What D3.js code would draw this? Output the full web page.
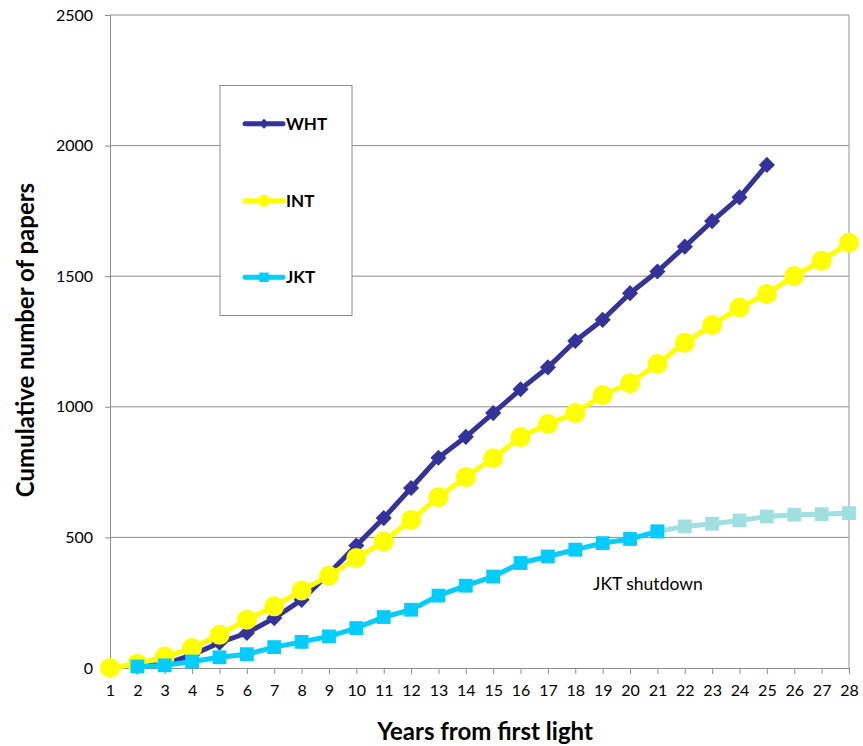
<!DOCTYPE html>
<html><head><meta charset="utf-8">
<script src="https://cdn.jsdelivr.net/npm/d3@7"></script>
<style>body{margin:0;background:#fff}svg{display:block}</style>
</head><body>
<svg id="c" width="863" height="746"></svg>
<script>
const years = d3.range(1, 29);
const yTicks = [0, 500, 1000, 1500, 2000, 2500];
const whtYears = d3.range(2, 26);
const whtValues = [5, 15, 50, 97, 134, 191, 261, 362, 469, 574, 689, 805, 885, 976, 1067, 1151, 1252, 1333, 1435, 1518, 1613, 1711, 1802, 1926];
const intYears = d3.range(1, 29);
const intValues = [0, 16, 43, 77, 127, 185, 236, 297, 353, 421, 484, 567, 654, 731, 803, 884, 934, 976, 1045, 1090, 1164, 1245, 1313, 1380, 1432, 1501, 1559, 1628];
const jktYears = d3.range(2, 22);
const jktValues = [6, 10, 25, 41, 53, 80, 100, 121, 153, 195, 223, 277, 315, 350, 402, 427, 453, 478, 494, 523];
const jktAfterYears = d3.range(21, 29);
const jktAfterValues = [523, 542, 552, 565, 580, 587, 589, 593];
const seriesNames = ["WHT", "INT", "JKT"];
const seriesColors = ["#333399", "#ffff00", "#00ccff"];
const afterColor = "#a0dfe0";
const font = "Lato, 'Open Sans', sans-serif";

const svg = d3.select("#c");
const L = 110, R = 849, T = 15, B = 668;
const x = d3.scaleLinear().domain([1, 28]).range([L, R]);
const y = d3.scaleLinear().domain([0, 2500]).range([B, T]);

// gridlines
svg.append("g").selectAll("line").data(yTicks.filter(d => d > 0)).join("line")
  .attr("x1", L).attr("x2", R).attr("y1", d => y(d)).attr("y2", d => y(d))
  .attr("stroke", "#8c8c8c").attr("stroke-width", 1);
// right border
svg.append("line").attr("x1", R).attr("x2", R).attr("y1", T).attr("y2", B)
  .attr("stroke", "#a6a6a6").attr("stroke-width", 1.2);

// y axis
const ya = svg.append("g").attr("transform", `translate(${L},0)`)
  .call(d3.axisLeft(y).tickValues(yTicks).tickSize(5).tickPadding(12).tickFormat(d3.format("d")));
ya.select(".domain").attr("stroke", "#8c8c8c");
ya.selectAll(".tick line").attr("stroke", "#8c8c8c");
ya.selectAll("text").attr("font-family", font).attr("font-size", 16).attr("fill", "#000");

// x axis
const xa = svg.append("g").attr("transform", `translate(0,${B})`)
  .call(d3.axisBottom(x).tickValues(years).tickSize(6).tickPadding(11).tickFormat(d3.format("d")));
xa.select(".domain").attr("stroke", "#8c8c8c");
xa.selectAll(".tick line").attr("stroke", "#8c8c8c");
xa.selectAll("text").attr("font-family", font).attr("font-size", 16).attr("fill", "#000");

// titles
svg.append("text").attr("x", 485).attr("y", 740).attr("text-anchor", "middle")
  .attr("font-family", font).attr("font-weight", "bold").attr("font-size", 24).text("Years from first light");
svg.append("text").attr("transform", `translate(34,340) rotate(-90)`).attr("text-anchor", "middle")
  .attr("font-family", font).attr("font-weight", "bold").attr("font-size", 24).text("Cumulative number of papers");

const line = d3.line().x(d => x(d[0])).y(d => y(d[1]));
const diamond = d3.symbol().type(d3.symbolSquare).size(130);
const square = d3.symbol().type(d3.symbolSquare).size(190);

function drawSeries(xs, vs, color, marker) {
  const pts = xs.map((d, i) => [d, vs[i]]);
  svg.append("path").datum(pts).attr("d", line).attr("fill", "none")
    .attr("stroke", color).attr("stroke-width", 5).attr("stroke-linejoin", "round");
  const g = svg.append("g");
  if (marker === "diamond") {
    g.selectAll("path").data(pts).join("path").attr("d", diamond)
      .attr("transform", d => `translate(${x(d[0])},${y(d[1])}) rotate(45)`).attr("fill", color);
  } else if (marker === "circle") {
    g.selectAll("circle").data(pts).join("circle").attr("cx", d => x(d[0])).attr("cy", d => y(d[1]))
      .attr("r", 10).attr("fill", color);
  } else {
    g.selectAll("path").data(pts).join("path").attr("d", square)
      .attr("transform", d => `translate(${x(d[0])},${y(d[1])})`).attr("fill", color);
  }
}
drawSeries(whtYears, whtValues, seriesColors[0], "diamond");
drawSeries(intYears, intValues, seriesColors[1], "circle");
drawSeries(jktAfterYears, jktAfterValues, afterColor, "square");
drawSeries(jktYears, jktValues, seriesColors[2], "square");

svg.append("text").attr("x", 593).attr("y", 590).attr("font-family", font).attr("font-size", 17.5)
  .text("JKT shutdown");

// legend
const lg = svg.append("g");
lg.append("rect").attr("x", 220).attr("y", 85.5).attr("width", 132).attr("height", 230)
  .attr("fill", "#fff").attr("stroke", "#8c8c8c").attr("stroke-width", 1);
const ly = [123.7, 200.7, 277.3];
const markers = ["diamond", "circle", "square"];
seriesNames.forEach((n, i) => {
  lg.append("line").attr("x1", 245).attr("x2", 283).attr("y1", ly[i]).attr("y2", ly[i])
    .attr("stroke", seriesColors[i]).attr("stroke-width", 5).attr("stroke-linecap", "round");
  if (markers[i] === "diamond") {
    lg.append("path").attr("d", d3.symbol().type(d3.symbolSquare).size(50))
      .attr("transform", `translate(264,${ly[i]}) rotate(45)`).attr("fill", seriesColors[i]);
  } else if (markers[i] === "circle") {
    lg.append("circle").attr("cx", 264).attr("cy", ly[i]).attr("r", 6).attr("fill", seriesColors[i]);
  } else {
    lg.append("path").attr("d", d3.symbol().type(d3.symbolSquare).size(90))
      .attr("transform", `translate(264,${ly[i]})`).attr("fill", seriesColors[i]);
  }
  lg.append("text").attr("x", 286).attr("y", ly[i] + 6).attr("font-family", font)
    .attr("font-weight", "bold").attr("font-size", 17).text(n);
});
</script>
</body></html>
